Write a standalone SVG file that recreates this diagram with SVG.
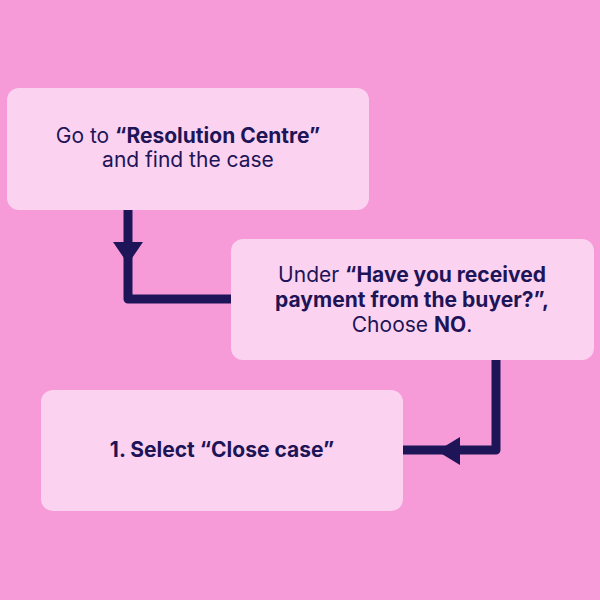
<svg xmlns="http://www.w3.org/2000/svg" width="600" height="600" viewBox="0 0 600 600">
<style>
.box{fill:#FBD3F0;}
.t{font-family:Inter,"Noto Sans","Liberation Sans",sans-serif;font-size:21px;fill:#1E1458;text-anchor:middle;}
.b{font-weight:700;}
.line{fill:none;stroke:#1E1458;stroke-width:9;stroke-linejoin:round;stroke-linecap:butt;}
.head{fill:#1E1458;}
</style>
<rect width="600" height="600" fill="#F79BD8"/>
<g id="connectors">
<path class="line" d="M128 210 V299 H232"/>
<polygon class="head" points="113,242 143,242 128,264"/>
<path class="line" d="M496 360 V450 H403"/>
<polygon class="head" points="460,437 460,465 437,451"/>
</g>
<g id="node1">
<rect class="box" x="7" y="88" width="362" height="122" rx="12"/>
<text class="t" x="188" y="143">Go to <tspan class="b">“Resolution Centre”</tspan></text>
<text class="t" x="188" y="167">and find the case</text>
</g>
<g id="node2">
<rect class="box" x="231" y="239" width="363" height="121" rx="12"/>
<text class="t" x="412" y="282">Under <tspan class="b">“Have you received</tspan></text>
<text class="t b" x="412" y="307">payment from the buyer?”,</text>
<text class="t" x="412" y="332">Choose <tspan class="b">NO</tspan>.</text>
</g>
<g id="node3">
<rect class="box" x="41" y="390" width="362" height="121" rx="12"/>
<text class="t b" x="222" y="457">1. Select “Close case”</text>
</g>
</svg>
